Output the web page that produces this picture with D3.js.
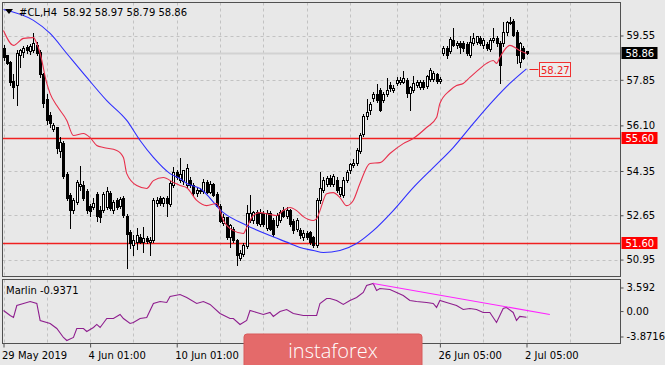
<!DOCTYPE html>
<html>
<head>
<meta charset="utf-8">
<title>#CL,H4</title>
<script src="https://d3js.org/d3.v7.min.js"></script>
<style>
  body { margin: 0; background: #e8e8e8; }
  svg text { font-family: "DejaVu Sans", sans-serif; font-size: 10px; }
</style>
</head>
<body>
<svg id="chart" width="665" height="365"></svg>
<script>
// H4 candles, [open, high, low, close]
const candles = [
  [59.05,59.17,58.59,58.71],[58.78,58.82,58.40,58.48],[58.51,58.59,57.63,57.74],[57.78,58.09,57.13,57.55],
  [57.63,59.01,56.86,58.86],[58.78,59.05,58.30,58.97],[58.90,59.13,58.70,59.05],[59.09,59.20,58.85,58.97],
  [58.93,59.24,58.80,59.13],[58.97,59.63,58.86,59.24],[59.17,59.30,58.75,58.86],[58.90,59.00,57.90,58.05],
  [58.05,58.10,56.75,56.95],[57.10,57.30,56.10,56.29],[56.48,56.60,56.00,56.17],[55.95,56.20,55.85,56.10],
  [56.00,56.05,55.00,55.20],[55.10,55.65,54.85,55.45],[55.40,55.50,54.05,54.15],[54.20,54.30,53.20,53.30],
  [53.40,53.50,52.13,52.85],[52.85,53.30,52.70,53.20],[53.15,54.00,53.05,53.90],[53.75,54.56,53.60,53.82],
  [53.80,53.95,53.20,53.30],[53.55,53.65,52.70,52.85],[53.00,53.10,52.60,52.80],[52.95,53.30,52.85,53.10],
  [53.45,53.55,52.40,52.60],[52.85,53.00,52.35,52.55],[52.85,53.55,52.75,53.45],[52.95,53.72,52.85,53.55],
  [53.50,53.60,52.80,52.90],[52.85,53.25,52.70,53.15],[53.20,53.30,52.85,52.95],[53.00,53.35,52.90,53.25],
  [53.30,53.40,52.55,52.65],[52.60,52.70,50.60,51.90],[52.00,52.10,51.35,51.55],[51.50,51.90,51.10,51.70],
  [51.60,52.18,51.30,51.87],[51.80,51.95,51.55,51.62],[51.62,52.20,51.20,51.75],[51.75,51.85,51.55,51.65],
  [51.62,51.80,51.10,51.70],[51.70,53.30,51.60,53.22],[53.10,53.35,52.95,53.20],[53.28,53.40,53.00,53.10],
  [53.10,53.35,52.95,53.28],[53.28,53.40,52.60,53.10],[53.05,53.98,52.95,53.86],[53.80,54.50,53.70,54.28],
  [54.28,54.40,54.00,54.10],[54.00,54.83,53.90,54.22],[53.95,54.40,53.80,54.35],[53.80,54.60,53.70,54.45],
  [53.98,54.10,53.70,53.79],[53.79,53.90,53.40,53.48],[53.48,53.75,53.35,53.62],[53.62,53.70,53.45,53.55],
  [53.55,54.05,53.45,53.90],[53.90,54.00,53.45,53.52],[53.52,53.95,53.45,53.85],[53.85,53.90,53.35,53.40],
  [53.45,53.55,52.95,53.00],[53.00,53.10,52.35,52.40],[52.35,52.70,52.25,52.55],[52.55,52.60,51.70,51.80],
  [51.80,52.30,51.40,52.25],[52.10,52.20,51.60,51.68],[51.68,51.75,50.72,51.10],[51.00,51.30,50.90,51.20],
  [51.15,51.60,51.05,51.50],[51.45,53.05,51.35,52.70],[52.45,53.41,52.35,52.70],[52.45,52.80,52.30,52.75],
  [52.75,52.85,52.25,52.35],
  [52.30,52.90,52.20,52.70],[52.70,52.80,52.20,52.30],[52.15,52.85,52.05,52.70],[52.70,52.80,52.05,52.12],
  [52.45,52.55,51.80,51.90],[52.25,52.75,52.15,52.65],[52.45,52.85,52.35,52.75],[52.85,52.95,52.55,52.62],
  [52.62,52.95,52.50,52.85],[52.85,52.90,52.20,52.30],[52.40,52.50,51.95,52.06],[52.10,52.55,52.00,52.45],
  [52.06,52.15,51.75,51.87],[51.80,52.10,51.65,51.95],[51.95,52.05,51.70,51.80],[51.98,52.05,51.50,51.62],
  [51.78,51.85,51.40,51.49],[51.49,53.30,51.40,53.22],[53.22,54.30,53.10,53.68],[53.60,54.10,53.50,54.00],
  [53.85,54.15,53.75,54.05],[54.05,54.20,53.75,53.85],[53.85,54.25,53.75,54.15],[54.00,54.10,53.50,53.60],
  [53.45,53.75,53.35,53.70],[53.40,54.10,53.30,54.00],[54.00,54.40,53.90,54.30],[54.35,54.65,54.25,54.60],
  [54.55,54.80,54.45,54.65],[54.65,55.25,54.55,55.15],[55.10,55.80,55.00,55.70],[55.75,56.55,55.65,56.45],
  [56.45,57.10,56.30,56.60],[56.67,57.00,56.50,56.90],[57.15,57.40,57.00,57.30],[57.30,57.70,56.95,57.05],
  [57.45,57.55,56.60,56.67],[57.05,57.40,56.95,57.30],[57.30,57.90,57.20,57.45],[57.65,57.75,57.40,57.50],
  [57.45,57.65,57.35,57.52],[57.70,57.95,57.60,57.82],[57.75,57.95,57.65,57.82],[57.75,58.20,57.70,57.90],
  [57.82,57.90,57.15,57.32],[57.32,57.60,56.67,57.55],[57.45,58.00,57.35,57.70],[57.65,57.85,57.55,57.75],
  [57.55,57.85,57.45,57.75],[57.75,57.85,57.45,57.55],[57.60,58.05,57.50,57.98],[57.85,58.30,57.75,58.20],
  [57.85,58.20,57.75,58.10],[58.05,58.10,57.70,57.80],[57.80,57.95,57.70,57.85],[58.86,59.15,58.75,59.05],
  [59.05,59.15,58.65,58.80],[58.95,59.50,58.85,59.40],[59.35,59.85,59.10,59.17],[59.17,59.35,59.05,59.25],
  [59.25,59.35,58.85,59.10],[59.25,59.35,58.90,59.05],[59.20,59.30,58.75,58.86],[58.80,59.55,58.70,59.28],
  [59.25,59.65,59.15,59.45],[59.30,59.55,59.20,59.50],[59.45,59.55,59.15,59.25],[59.15,59.45,59.05,59.35],
  [59.20,59.30,58.95,59.05],[59.00,59.45,58.90,59.35],[59.35,59.82,59.25,59.45],[59.45,59.55,59.10,59.25],
  [59.25,59.35,57.70,58.40],[59.25,60.05,59.10,59.65],[59.65,60.10,59.55,60.05],[60.00,60.25,59.95,60.05],
  [60.10,60.20,59.50,59.55],[59.65,59.75,58.45,58.78],[58.50,59.30,58.30,59.25],[59.05,59.15,58.60,58.65],
  [58.92,58.97,58.79,58.86]
];

// moving averages, [bar, price]
const redMa = [
  [0,59.74],[3,59.17],[6,59.44],[9,59.47],[10,59.24],[11,58.86],[13,57.71],[14,57.32],[16,56.86],[19,56.29],
  [21,55.71],[24,55.79],[26,55.63],[28,55.33],[30,55.25],[34,55.14],[36,54.87],[37,54.25],[40,53.79],[43,53.68],
  [45,53.98],[48,54.10],[51,53.91],[53,53.79],[55,53.71],[58,53.22],[61,53.02],[64,53.10],[66,52.45],[69,52.06],
  [72,51.95],[73,52.18],[75,52.64],[77,52.75],[80,52.68],[82,52.64],[84,52.83],[86,52.95],[88,52.83],[90,52.60],
  [93,52.45],[94,52.52],[95,52.83],[97,53.48],[99,53.52],[101,53.33],[103,53.02],[105,53.22],[107,53.87],[110,54.64],
  [113,54.67],[116,55.02],[120,55.40],[123,55.60],[127,56.02],[130,56.40],[131,56.94],[134,57.44],[136,57.63],[138,57.71],
  [140,57.94],[143,58.28],[145,58.48],[147,58.59],[148,58.48],[149,58.71],[151,59.09],[152,59.17],[154,59.05],[155,58.97],
  [157,58.86]
];
const blueMa = [
  [0,60.55],[9,60.13],[14,59.63],[19,58.86],[25,57.94],[31,57.05],[37,56.29],[41,55.52],[45,54.87],[50,54.25],
  [53,54.06],[55,53.87],[59,53.68],[66,52.75],[73,52.26],[80,51.87],[86,51.57],[89,51.41],[93,51.30],[96,51.22],
  [101,51.30],[106,51.57],[111,52.06],[117,52.83],[123,53.71],[129,54.48],[135,55.25],[141,56.17],[147,57.05],[152,57.71],
  [157,58.27]
];

// Marlin oscillator, [bar, value]
const marlin = [
  [0,0.09],[2,-0.67],[3,-0.97],[4,0.85],[6,1.16],[8,1.46],[10,1.16],[11,-1.43],[14,-1.89],[16,-2.65],
  [18,-4.02],[19,-4.48],[21,-4.02],[22,-2.65],[24,-2.65],[25,-3.11],[27,-2.50],[28,-2.04],[29,-2.50],[31,-1.13],
  [33,-1.13],[35,-0.52],[36,-1.13],[38,-1.89],[39,-1.74],[41,-1.13],[43,-0.97],[45,1.16],[47,1.46],[49,1.31],
  [50,2.22],[53,2.53],[55,2.07],[58,1.16],[60,1.46],[62,1.01],[65,-0.37],[68,-1.13],[69,-1.13],[71,-2.04],
  [73,-1.43],[74,0.09],[76,-0.21],[78,-0.52],[80,-0.21],[81,-0.82],[83,-0.06],[85,0.24],[87,-0.37],[90,-0.67],
  [94,-0.67],[95,1.16],[97,1.92],[98,1.92],[100,1.61],[102,1.01],[104,1.61],[106,2.07],[108,2.83],[109,3.90],
  [111,4.20],[112,3.14],[113,3.44],[116,3.29],[118,2.83],[120,2.38],[122,1.61],[124,1.46],[127,1.31],[129,1.16],
  [130,0.55],[131,1.61],[133,1.31],[135,1.01],[136,0.85],[138,0.24],[140,0.40],[142,0.24],[144,-0.21],[146,-0.21],
  [148,-1.74],[150,0.40],[151,0.55],[153,-0.21],[154,-1.43],[155,-0.82],[157,-0.94]
];
const marlinTrend = [[111,4.20],[164,-0.52]];

const priceTicks = [59.55, 57.85, 56.10, 54.35, 52.65, 50.95];
const marlinTicks = [3.592, 0, -3.8716];
const marlinTickLabels = ["3.592", "0.00", "-3.8716"];
// two middle labels sit under the watermark in the original and are not readable
const dateTicks = [0, 26, 52, 131, 157];
const dateLabels = ["29 May 2019", "4 Jun 01:00", "10 Jun 01:00", "26 Jun 05:00", "2 Jul 05:00"];
const gridBars = [0, 13, 26, 39, 52, 65, 78, 91, 104, 118, 131, 144, 157, 170];
const levels = [55.60, 51.60];
const quote = { symbol: "#CL,H4", open: 58.92, high: 58.97, low: 58.79, close: 58.86 };
const lastBlue = 58.27;
const marlinNow = -0.9371;

const svg = d3.select("#chart");
const left = 2.5, right = 620.5;
const mainTop = 2.5, mainBottom = 276.5;
const indTop = 279.5, indBottom = 343.5;

const x = d3.scaleLinear().domain([0, candles.length - 1]).range([3.5, 526.5]);
const y = d3.scaleLinear().domain([50.30, 60.817]).range([mainBottom, mainTop]);
const ym = d3.scaleLinear().domain([-4.94, 4.81]).range([indBottom, indTop]);

svg.append("rect").attr("width", 665).attr("height", 365).attr("fill", "#e8e8e8");

const defs = svg.append("defs");
defs.append("clipPath").attr("id", "clipMain").append("rect")
  .attr("x", left).attr("y", mainTop).attr("width", right - left).attr("height", mainBottom - mainTop);
defs.append("clipPath").attr("id", "clipInd").append("rect")
  .attr("x", left).attr("y", indTop).attr("width", right - left).attr("height", indBottom - indTop);

const main = svg.append("g").attr("clip-path", "url(#clipMain)");
const ind = svg.append("g").attr("clip-path", "url(#clipInd)");

[[main, mainTop, mainBottom], [ind, indTop, indBottom]].forEach(([g, t, b]) => {
  g.selectAll(".vg").data(gridBars).enter().append("line")
    .attr("x1", d => Math.round(x(d)) + 0.5).attr("x2", d => Math.round(x(d)) + 0.5)
    .attr("y1", t).attr("y2", b)
    .attr("stroke", "#c2c2c2").attr("stroke-dasharray", "3,3");
});

main.selectAll(".hg").data(priceTicks).enter().append("line")
  .attr("x1", left).attr("x2", right)
  .attr("y1", d => Math.round(y(d)) + 0.5).attr("y2", d => Math.round(y(d)) + 0.5)
  .attr("stroke", "#c2c2c2").attr("stroke-dasharray", "3,3");

// bid line
main.append("line")
  .attr("x1", left).attr("x2", right)
  .attr("y1", Math.round(y(quote.close)) + 0.5).attr("y2", Math.round(y(quote.close)) + 0.5)
  .attr("stroke", "#d2d2d2").attr("stroke-width", 2);

// support / resistance levels
main.selectAll(".lvl").data(levels).enter().append("line")
  .attr("x1", left).attr("x2", right)
  .attr("y1", d => Math.round(y(d)) + 0.5).attr("y2", d => Math.round(y(d)) + 0.5)
  .attr("stroke", "#f02020").attr("stroke-width", 1.3);

// candles
const cg = main.append("g").attr("shape-rendering", "crispEdges");
cg.selectAll(".wick").data(candles).enter().append("line")
  .attr("x1", (d, i) => Math.round(x(i)) + 0.5).attr("x2", (d, i) => Math.round(x(i)) + 0.5)
  .attr("y1", d => y(d[1])).attr("y2", d => y(d[2]))
  .attr("stroke", "#000");
cg.selectAll(".body").data(candles).enter().append("rect")
  .attr("x", (d, i) => Math.round(x(i)) - 0.5)
  .attr("y", d => y(Math.max(d[0], d[3])))
  .attr("width", 2)
  .attr("height", d => Math.max(1, Math.abs(y(d[0]) - y(d[3]))))
  .attr("fill", d => d[3] >= d[0] ? "#fff" : "#000")
  .attr("stroke", "#000").attr("stroke-width", 1);

// moving averages
const maLine = d3.line().x(d => x(d[0])).y(d => y(d[1])).curve(d3.curveMonotoneX);
main.append("path").datum(blueMa).attr("d", maLine)
  .attr("fill", "none").attr("stroke", "#2f2fff").attr("stroke-width", 1.1);
main.append("path").datum(redMa).attr("d", maLine)
  .attr("fill", "none").attr("stroke", "#e8304c").attr("stroke-width", 1.1);

// Marlin oscillator
const mLine = d3.line().x(d => x(d[0])).y(d => ym(d[1]));
ind.append("path").datum(marlin).attr("d", mLine)
  .attr("fill", "none").attr("stroke", "#8e1e8e").attr("stroke-width", 1.1);
ind.append("path").datum(marlinTrend).attr("d", mLine)
  .attr("fill", "none").attr("stroke", "#ff22ff").attr("stroke-width", 1.1);

// panel frames
[[mainTop, mainBottom], [indTop, indBottom]].forEach(([t, b]) => {
  svg.append("rect").attr("x", left).attr("y", t).attr("width", right - left).attr("height", b - t)
    .attr("fill", "none").attr("stroke", "#505050");
});

// price axis
const pAxis = svg.append("g").attr("transform", `translate(${right},0)`)
  .call(d3.axisRight(y).tickValues(priceTicks).tickFormat(d3.format(".2f")).tickSize(3).tickPadding(3));
pAxis.select(".domain").remove();

const mAxis = svg.append("g").attr("transform", `translate(${right},0)`)
  .call(d3.axisRight(ym).tickValues(marlinTicks).tickFormat((d, i) => marlinTickLabels[i]).tickSize(3).tickPadding(3));
mAxis.select(".domain").remove();

[pAxis, mAxis].forEach(a => {
  a.selectAll("line").attr("stroke", "#505050");
  a.selectAll("text").attr("font-family", "DejaVu Sans").attr("font-size", 10).style("fill", "#000");
});

// time axis
const tAxis = svg.append("g").attr("transform", `translate(0,${indBottom})`)
  .call(d3.axisBottom(x).tickValues(dateTicks).tickFormat((d, i) => dateLabels[i]).tickSize(4).tickPadding(4));
tAxis.select(".domain").remove();
tAxis.selectAll("line").attr("stroke", "#505050");
tAxis.selectAll("text").attr("text-anchor", "start").attr("dx", -2)
  .attr("font-family", "DejaVu Sans").attr("font-size", 10).style("fill", "#000");

// price tags on the axis
function tag(price, bg, fg) {
  const cy = Math.round(y(price));
  svg.append("rect").attr("x", right + 1).attr("y", cy - 6).attr("width", 36).attr("height", 12)
    .attr("fill", bg);
  svg.append("text").attr("x", right + 5).attr("y", cy + 4).text(price.toFixed(2))
    .style("fill", fg);
}
levels.forEach(l => tag(l, "#ff0000", "#fff"));
tag(quote.close, "#000", "#fff");

// blue MA value tag
const by = Math.round(y(lastBlue)) + 0.5;
svg.append("line").attr("x1", x(candles.length - 1) + 3).attr("x2", x(candles.length - 1) + 12)
  .attr("y1", by).attr("y2", by).attr("stroke", "#f02020");
svg.append("rect").attr("x", 539.5).attr("y", by - 7).attr("width", 31).attr("height", 14)
  .attr("fill", "#ececec").attr("stroke", "#f03030");
svg.append("text").attr("x", 541).attr("y", by + 4).text(lastBlue.toFixed(2)).style("fill", "#f02020");

// title
svg.append("path").attr("d", "M5,9 L13,9 L9,14 Z").attr("fill", "#000");
svg.append("text").attr("x", 19).attr("y", 16).text(quote.symbol).style("fill", "#000");
svg.append("text").attr("x", 63).attr("y", 16).style("fill", "#000")
  .text([quote.open, quote.high, quote.low, quote.close].map(d => d.toFixed(2)).join(" "));

svg.append("text").attr("x", 6).attr("y", 294).style("fill", "#000").text("Marlin " + marlinNow.toFixed(4));

// watermark
svg.append("rect").attr("x", 244).attr("y", 334).attr("width", 178).attr("height", 36).attr("rx", 3)
  .attr("fill", "#e46a6a").attr("stroke", "#d85a5a");
svg.append("text").attr("x", 333).attr("y", 358).attr("text-anchor", "middle")
  .style("font-family", "'Open Sans', sans-serif").style("font-size", "20px").style("font-weight", 300)
  .style("fill", "#fff").text("instaforex");
</script>
</body>
</html>
